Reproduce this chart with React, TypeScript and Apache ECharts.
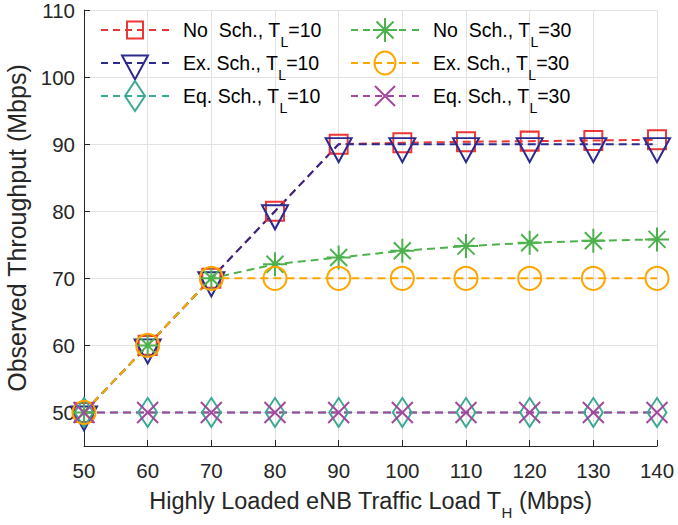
import React, { useEffect, useRef } from 'react';
import * as echarts from 'echarts';

// ---- data ----
const loads = [50, 60, 70, 80, 90, 100, 110, 120, 130, 140];
const noSch10 = [50, 60, 70, 80, 90, 90.2, 90.35, 90.45, 90.55, 90.65];
const exSch10 = [50, 60, 70, 80, 90, 90, 90, 90, 90, 90];
const eqSch10 = [50, 50, 50, 50, 50, 50, 50, 50, 50, 50];
const noSch30 = [50, 60, 70, 72.1, 73.1, 74.1, 74.8, 75.3, 75.6, 75.8];
const exSch30 = [50, 60, 70, 70, 70, 70, 70, 70, 70, 70];
const eqSch30 = [50, 50, 50, 50, 50, 50, 50, 50, 50, 50];
const yTickValues = [50, 60, 70, 80, 90, 100, 110];
const xTickValues = [50, 60, 70, 80, 90, 100, 110, 120, 130, 140];

const names = {
  no10: 'No  Sch., T_L=10',
  ex10: 'Ex. Sch., T_L=10',
  eq10: 'Eq. Sch., T_L=10',
  no30: 'No  Sch., T_L=30',
  ex30: 'Ex. Sch., T_L=30',
  eq30: 'Eq. Sch., T_L=30',
};

const colors = {
  red: '#ec3535',
  navy: '#2d2a8e',
  teal: '#3aa995',
  green: '#4db24d',
  orange: '#ffa500',
  purple: '#a3489f',
};

const FONT = 'Liberation Sans';

// legend icon paths (68 x 36 box, line at y=18)
const DASHES = 'M0,18L7,18M12,18L19,18M24,18L31,18M36,18L43,18M48,18L55,18M61,18L68,18M34,0L34,0M34,36L34,36';
const legendIcons = {
  square: 'path://' + DASHES + 'M26,9.5L42,9.5L42,26.5L26,26.5Z',
  triDown: 'path://' + DASHES + 'M21,10.5L47,10.5L34,34.5Z',
  diamond: 'path://' + DASHES + 'M34,3L44,18L34,33L24,18Z',
  asterisk: 'path://' + DASHES + 'M22,18L46,18M34,6L34,30M25.5,9.5L42.5,26.5M42.5,9.5L25.5,26.5',
  circle: 'path://' + DASHES + 'M44.5,18A10.5,11.5 0 1 1 23.5,18A10.5,11.5 0 1 1 44.5,18Z',
  cross: 'path://' + DASHES + 'M24,8L44,28M44,8L24,28',
};

const markerPaths = {
  triDown: 'path://M0,0L26,0L13,24Z',
  asterisk: 'path://M0,12L24,12M12,0L12,24M3.5,3.5L20.5,20.5M20.5,3.5L3.5,20.5',
  cross: 'path://M0,0L20,20M20,0L0,20',
};

function pairs(ys: number[]) {
  return loads.map((x, i) => [x, ys[i]]);
}

function mkSeries(name: string, ys: number[], color: string, symbol: string, size: any, offset?: number[]) {
  return {
    type: 'line',
    name,
    data: pairs(ys),
    symbol,
    symbolSize: size,
    symbolOffset: offset || [0, 0],
    symbolKeepAspect: false,
    lineStyle: { color, width: 2, type: [8, 5] },
    itemStyle: { color: 'transparent', borderColor: color, borderWidth: 2 },
    emphasis: { disabled: true },
  };
}

function legendItem(name: string, icon: string, color: string) {
  return {
    name,
    icon,
    itemStyle: { color: 'transparent', borderColor: color, borderWidth: 2 },
  };
}

const legendText = {
  fontFamily: FONT,
  fontSize: 19.5,
  color: '#000',
  padding: [0, 0, 0, 9],
  rich: {
    sub: { fontFamily: FONT, fontSize: 14, color: '#000', padding: [24, 0, 0, 0] },
  },
};

const fmt = (n: string) => n.replace('T_L', 'T{sub|L}');

function mkLegend(left: number, data: any[]) {
  return {
    orient: 'vertical',
    left,
    top: 11,
    padding: 0,
    itemWidth: 68,
    itemHeight: 36,
    itemGap: -5,
    selectedMode: false,
    symbolKeepAspect: true,
    formatter: fmt,
    textStyle: legendText,
    data,
  };
}

export default function App() {
  const ref = useRef<HTMLDivElement>(null);
  useEffect(() => {
    const chart = echarts.init(ref.current!, null, { renderer: 'svg' });
    const option: any = {
      animation: false,
      backgroundColor: '#fff',
      grid: { left: 84, right: 21, top: 10, bottom: 79, containLabel: false, outerBoundsMode: 'none' },
      legend: [
        mkLegend(100, [
          legendItem(names.no10, legendIcons.square, colors.red),
          legendItem(names.ex10, legendIcons.triDown, colors.navy),
          legendItem(names.eq10, legendIcons.diamond, colors.teal),
        ]),
        mkLegend(350, [
          legendItem(names.no30, legendIcons.asterisk, colors.green),
          legendItem(names.ex30, legendIcons.circle, colors.orange),
          legendItem(names.eq30, legendIcons.cross, colors.purple),
        ]),
      ],
      xAxis: {
        type: 'value',
        min: 50,
        max: 140,
        interval: 10,
        name: 'Highly Loaded eNB Traffic Load T{sub|H} (Mbps)',
        nameLocation: 'middle',
        nameGap: 35,
        nameTextStyle: {
          fontFamily: FONT,
          fontSize: 23.5,
          color: '#262626',
          rich: { sub: { fontFamily: FONT, fontSize: 15, color: '#262626', padding: [24, 0, 0, 0] } },
        },
        axisLine: { show: true, lineStyle: { color: '#262626', width: 1 } },
        axisTick: { show: true, inside: true, length: 6, lineStyle: { color: '#262626' }, customValues: xTickValues },
        axisLabel: { fontFamily: FONT, fontSize: 20.5, color: '#262626', margin: 14, customValues: xTickValues },
        splitLine: { show: true, lineStyle: { color: '#e2e2e2', width: 1 } },
      },
      yAxis: {
        type: 'value',
        min: 45,
        max: 110,
        name: 'Observed Throughput (Mbps)',
        nameLocation: 'middle',
        nameGap: 38,
        nameTextStyle: { fontFamily: FONT, fontSize: 25, color: '#262626' },
        axisLine: { show: true, lineStyle: { color: '#262626', width: 1 } },
        axisTick: { show: true, inside: true, length: 6, lineStyle: { color: '#262626' }, customValues: yTickValues },
        axisLabel: { fontFamily: FONT, fontSize: 20.5, lineHeight: 20, color: '#262626', margin: 9, customValues: yTickValues },
        splitLine: { show: true, lineStyle: { color: '#e2e2e2', width: 1 } },
      },
      series: [
        mkSeries(names.no10, noSch10, colors.red, 'rect', [18, 19]),
        mkSeries(names.ex10, exSch10, colors.navy, markerPaths.triDown, [26, 24], [0, 6]),
        mkSeries(names.eq10, eqSch10, colors.teal, 'diamond', [19, 29]),
        mkSeries(names.no30, noSch30, colors.green, markerPaths.asterisk, [24, 24]),
        mkSeries(names.ex30, exSch30, colors.orange, 'circle', 23),
        mkSeries(names.eq30, eqSch30, colors.purple, markerPaths.cross, [21, 21]),
      ],
    };
    chart.setOption(option);
    return () => chart.dispose();
  }, []);
  return <div ref={ref} style={{ position: 'fixed', left: 0, top: 0, width: 678, height: 525 }} />;
}
